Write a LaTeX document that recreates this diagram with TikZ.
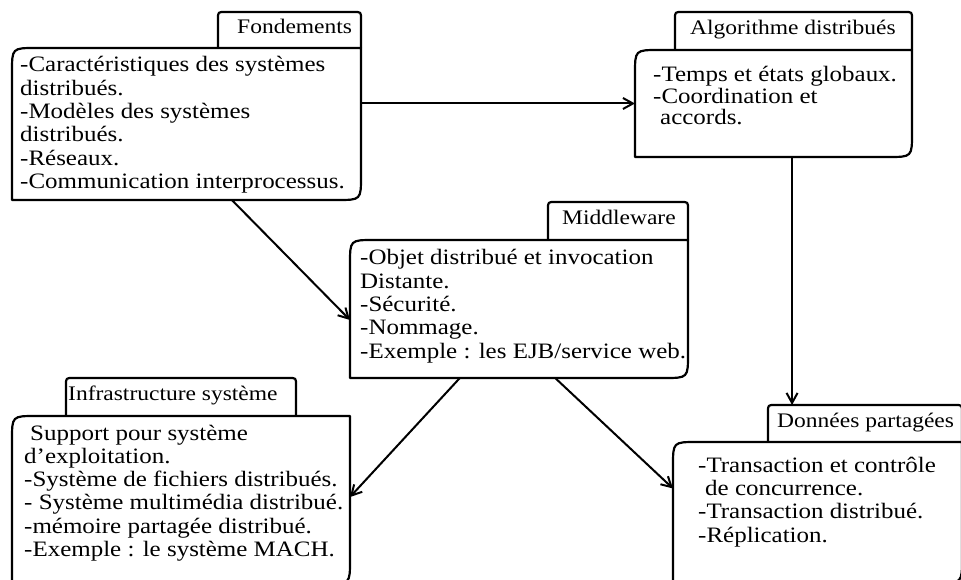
\documentclass[tikz,border=0pt]{standalone}
\usepackage{fontspec}
\setmainfont{Liberation Serif}[FakeStretch=1.135]
\usetikzlibrary{arrows.meta,calc}

\newcommand\bodyfont{\fontsize{22}{23.3}\selectfont}
\newcommand\lblfont{\fontsize{20.7}{22}\selectfont}

% body of a card: rounded top-left and bottom-right corners
\newcommand\bodyoutline[1]{%
  \draw[cardline] ([yshift=-24pt]#1.north west) .. controls (#1.north west) .. ([xshift=24pt]#1.north west)
    -- (#1.north east) -- ([yshift=24pt]#1.south east) .. controls (#1.south east) .. ([xshift=-24pt]#1.south east)
    -- (#1.south west) -- cycle;}
% title tab sitting on top of a card
\newcommand\taboutline[1]{%
  \draw[cardline] (#1.south west) -- ([yshift=-7pt]#1.north west) .. controls (#1.north west) .. ([xshift=7pt]#1.north west)
    -- ([xshift=-7pt]#1.north east) .. controls (#1.north east) .. ([yshift=-7pt]#1.north east) -- (#1.south east);}

\tikzset{
  card/.style={draw=none, inner sep=0pt, outer sep=0pt},
  cardline/.style={line width=2.2pt, line join=round},
  % multi-line texts are placed by the baseline of their last line
  txt/.style={inner sep=0pt, anchor=base west, align=left, font=\bodyfont},
  lbl/.style={inner sep=0pt, anchor=base west, font=\lblfont},
  arr/.style={line width=2pt, -{Straight Barb[length=10pt,width=11pt]}},
}

\begin{document}
\begin{tikzpicture}[x=1pt,y=-1pt]
\useasboundingbox (0,0) rectangle (961,580);
\clip (0,0) rectangle (961,580);
\fill[white] (0,0) rectangle (961,580);

% card bodies
\node[card, anchor=north west, minimum width=349pt, minimum height=152pt] (fond)  at (12,48)  {};
\node[card, anchor=north west, minimum width=277pt, minimum height=107pt] (algo)  at (635,50) {};
\node[card, anchor=north west, minimum width=338pt, minimum height=138pt] (mid)   at (350,240) {};
\node[card, anchor=north west, minimum width=338pt, minimum height=168pt] (infra) at (12,416) {};
\node[card, anchor=north west, minimum width=289pt, minimum height=141pt] (don)   at (673,442) {};

% title tabs
\node[card, anchor=south west, minimum width=143pt, minimum height=36pt] (fondtab)  at (218,48)  {};
\node[card, anchor=south west, minimum width=237pt, minimum height=38pt] (algotab)  at (675,50)  {};
\node[card, anchor=south west, minimum width=140pt, minimum height=38pt] (midtab)   at (548,240) {};
\node[card, anchor=south west, minimum width=230pt, minimum height=38pt] (infratab) at (66,416)  {};
\node[card, anchor=south west, minimum width=194pt, minimum height=37pt] (dontab)   at (768,442) {};

\foreach \c in {fond,algo,mid,infra,don}{\bodyoutline{\c}\taboutline{\c tab}}

% tab titles
\node[lbl] (fondlbl)  at (237,34)  {Fondements};
\node[lbl] (algolbl)  at (690,35)  {Algorithme distribués};
\node[lbl] (midlbl)   at (562,225) {Middleware};
\node[lbl] (infralbl) at (68,400)  {Infrastructure système};
\node[lbl] (donlbl)   at (777,427) {Données partagées};

% card contents
\node[txt] (fondtxt) at (20,188.5) {-Caractéristiques des systèmes\\distribués.\\-Modèles des systèmes\\distribués.\\-Réseaux.\\-Communication interprocessus.};
\node[txt, font=\fontsize{22}{21.5}\selectfont] (algotxt) at (653,125) {-Temps et états globaux.\\-Coordination et\\\hspace{7pt}accords.};
\node[txt] (midtxt) at (360,358) {-Objet distribué et invocation\\Distante.\\-Sécurité.\\-Nommage.\\-Exemple : les EJB/service web.};
\node[txt] (infratxt) at (24,556.5) {\hspace{6pt}Support pour système\\d’exploitation.\\-Système de fichiers distribués.\\- Système multimédia distribué.\\-mémoire partagée distribué.\\-Exemple : le système MACH.};
\node[txt] (dontxt) at (698,542) {-Transaction et contrôle\\\hspace{7pt}de concurrence.\\-Transaction distribué.\\-Réplication.};

% connectors
\draw[arr] (fond.east |- algo.west) -- (algo.west);
\draw[arr] ($(fond.south west)!0.63!(fond.south east)$) -- ([yshift=-11pt]mid.west);
\draw[arr] ($(algo.south west)!0.567!(algo.south east)$) coordinate (a2d) -- (a2d |- dontab.north);
\draw[arr] ($(mid.south west)!0.325!(mid.south east)$) -- ([yshift=3pt]infra.east);
\draw[arr] ($(mid.south west)!0.607!(mid.south east)$) -- ([yshift=24pt]don.west);
\end{tikzpicture}
\end{document}
